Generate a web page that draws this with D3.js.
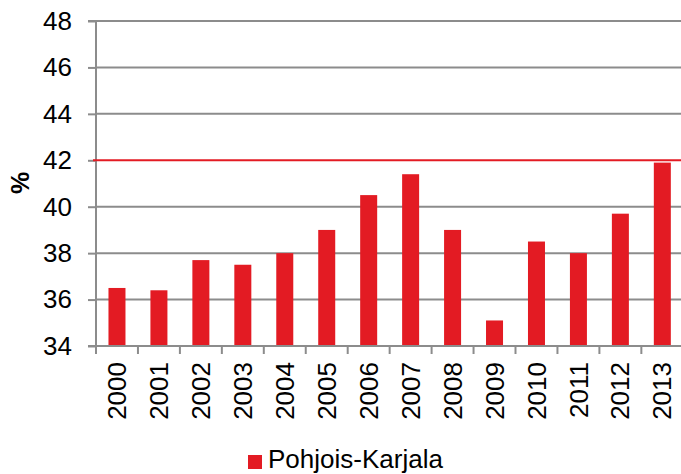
<!DOCTYPE html>
<html><head><meta charset="utf-8">
<script src="https://cdn.jsdelivr.net/npm/d3@7"></script>
<style>body{margin:0;background:#fff}svg{display:block}text{font-family:"Liberation Sans",Arial,sans-serif;fill:#000}</style>
</head><body>
<script>
const years = ["2000","2001","2002","2003","2004","2005","2006","2007","2008","2009","2010","2011","2012","2013"];
const values = [36.5,36.4,37.7,37.5,38.0,39.0,40.5,41.4,39.0,35.1,38.5,38.0,39.7,41.9];
const yTicks = [34,36,38,40,42,44,46,48];
const refValue = 42;
const seriesName = "Pohjois-Karjala";
const yLabel = "%";

const W = 681, H = 474;
const m = {left:96, top:21, right:-2.3, bottom:128};
const svg = d3.select("body").append("svg").attr("width",W).attr("height",H);
const x = d3.scaleBand().domain(years).range([m.left, W - m.right]).paddingInner(0).paddingOuter(0);
const y = d3.scaleLinear().domain([34,48]).range([H - m.bottom, m.top]);
const grey = "#8c8c8c", red = "#e31b23";

// gridlines
svg.append("g").selectAll("line").data(yTicks.filter(d=>d!==34 && d!==refValue)).join("line")
  .attr("x1", m.left).attr("x2", W).attr("y1", d=>y(d)).attr("y2", d=>y(d))
  .attr("stroke", grey).attr("stroke-width", 2);

// y axis
const ya = svg.append("g").attr("transform",`translate(${m.left},0)`)
  .call(d3.axisLeft(y).tickValues(yTicks).tickSize(8).tickPadding(16).tickFormat(d3.format("d")));
ya.select(".domain").attr("stroke", grey).attr("stroke-width", 2).attr("d", `M-8,${y(48)}H0V${y(34)}`);
ya.selectAll(".tick line").attr("stroke", grey).attr("stroke-width", 2);
ya.selectAll(".tick text").attr("font-size", 26).attr("font-family", '"Liberation Sans",Arial,sans-serif').attr("fill","#000");

// bars
const bw = 17;
svg.append("g").selectAll("rect").data(years).join("rect")
  .attr("x", (d)=>x(d) + x.bandwidth()/2 - bw/2)
  .attr("width", bw)
  .attr("y", (d,i)=>y(values[i]))
  .attr("height", (d,i)=>y(34) - y(values[i]))
  .attr("fill", red);

// x axis
const xa = svg.append("g").attr("transform",`translate(0,${y(34)})`)
  .call(d3.axisBottom(x).tickSize(0).tickPadding(0));
xa.select(".domain").attr("stroke", grey).attr("stroke-width", 2).attr("d", `M${m.left-8},0H${W}`);
xa.selectAll(".tick text").attr("font-size", 26).attr("font-family", '"Liberation Sans",Arial,sans-serif').attr("fill","#000")
  .attr("text-anchor","end").attr("dy","0.35em")
  .attr("transform","translate(0,16) rotate(-90)").attr("x",0).attr("y",0);
// category boundary ticks
svg.append("g").selectAll("line").data(years).join("line")
  .attr("x1", d=>x(d)).attr("x2", d=>x(d)).attr("y1", y(34)).attr("y2", y(34)+8)
  .attr("stroke", grey).attr("stroke-width", 2);

// reference line
svg.append("line").attr("x1", m.left-3).attr("x2", W).attr("y1", y(refValue)).attr("y2", y(refValue))
  .attr("stroke", red).attr("stroke-width", 2);

// y label
svg.append("text").attr("transform",`translate(29,183) rotate(-90)`).attr("text-anchor","middle")
  .attr("font-size", 25).attr("font-weight","bold").text(yLabel);

// legend
const lg = svg.append("g").attr("transform","translate(248,455)");
lg.append("rect").attr("width",14).attr("height",14).attr("fill",red);
lg.append("text").attr("x",20).attr("y",13).attr("font-size",26).text(seriesName);
</script>
</body></html>
